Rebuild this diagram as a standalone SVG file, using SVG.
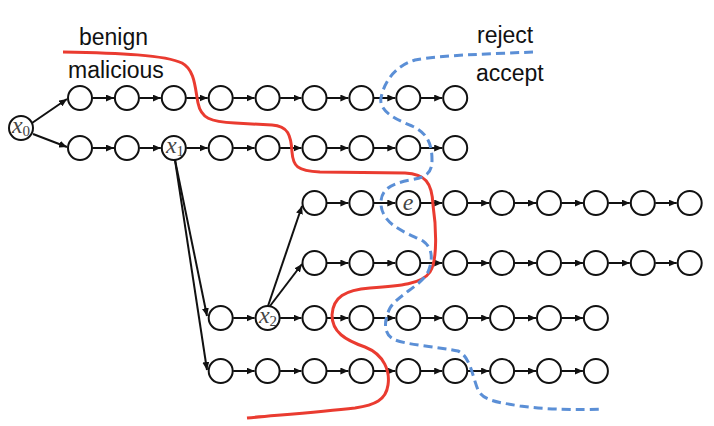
<svg xmlns="http://www.w3.org/2000/svg" width="714" height="426" viewBox="0 0 714 426">
<style>
.n circle{fill:#fff;stroke:#111;stroke-width:2}
.e line{stroke:#111;stroke-width:2;marker-end:url(#ah)}
.lbl{font-family:"Liberation Sans",Arial,sans-serif;font-size:23px;fill:#111}
.m{font-family:"Liberation Serif","Times New Roman",serif;font-style:italic;font-size:24px;fill:#444;text-anchor:middle}
.sub{font-style:normal;font-size:15px}
</style>
<defs>
<marker id="ah" markerUnits="userSpaceOnUse" markerWidth="9" markerHeight="7" refX="8" refY="3.5" orient="auto">
<path d="M0,0 L8,3.5 L0,7 z" fill="#111"/>
</marker>
</defs>
<rect width="714" height="426" fill="#fff"/>
<g id="labels">
<text class="lbl" x="79" y="45">benign</text>
<text class="lbl" x="68" y="78">malicious</text>
<text class="lbl" x="477" y="43">reject</text>
<text class="lbl" x="476" y="81">accept</text>
</g>
<g id="connectors" class="e">
<line x1="32" y1="123" x2="67" y2="99"/>
<line x1="33" y1="134" x2="67" y2="147"/>
<line x1="175" y1="160" x2="207" y2="316"/>
<line x1="175" y1="160" x2="207" y2="370"/>
<line x1="268" y1="306" x2="302" y2="206"/>
<line x1="270" y1="306" x2="302" y2="264"/>
<!-- row 1 -->
<line x1="92.5" y1="98" x2="114" y2="98"/>
<line x1="139.4" y1="98" x2="160.8" y2="98"/>
<line x1="186.3" y1="98" x2="207.7" y2="98"/>
<line x1="233.2" y1="98" x2="254.6" y2="98"/>
<line x1="280.1" y1="98" x2="301.5" y2="98"/>
<line x1="327" y1="98" x2="348.4" y2="98"/>
<line x1="373.9" y1="98" x2="395.3" y2="98"/>
<line x1="420.8" y1="98" x2="442.2" y2="98"/>
<!-- row 2 -->
<line x1="92.5" y1="148" x2="114" y2="148"/>
<line x1="139.4" y1="148" x2="160.8" y2="148"/>
<line x1="186.3" y1="148" x2="207.7" y2="148"/>
<line x1="233.2" y1="148" x2="254.6" y2="148"/>
<line x1="280.1" y1="148" x2="301.5" y2="148"/>
<line x1="327" y1="148" x2="348.4" y2="148"/>
<line x1="373.9" y1="148" x2="395.3" y2="148"/>
<line x1="420.8" y1="148" x2="442.2" y2="148"/>
<!-- row 3 -->
<line x1="327" y1="203" x2="348.4" y2="203"/>
<line x1="373.9" y1="203" x2="395.3" y2="203"/>
<line x1="420.8" y1="203" x2="442.2" y2="203"/>
<line x1="467.7" y1="203" x2="489.1" y2="203"/>
<line x1="514.6" y1="203" x2="536" y2="203"/>
<line x1="561.5" y1="203" x2="582.9" y2="203"/>
<line x1="608.4" y1="203" x2="629.8" y2="203"/>
<line x1="655.3" y1="203" x2="676.7" y2="203"/>
<!-- row 4 -->
<line x1="327" y1="263" x2="348.4" y2="263"/>
<line x1="373.9" y1="263" x2="395.3" y2="263"/>
<line x1="420.8" y1="263" x2="442.2" y2="263"/>
<line x1="467.7" y1="263" x2="489.1" y2="263"/>
<line x1="514.6" y1="263" x2="536" y2="263"/>
<line x1="561.5" y1="263" x2="582.9" y2="263"/>
<line x1="608.4" y1="263" x2="629.8" y2="263"/>
<line x1="655.3" y1="263" x2="676.7" y2="263"/>
<!-- row 5 -->
<line x1="233.2" y1="318" x2="254.6" y2="318"/>
<line x1="280.1" y1="318" x2="301.5" y2="318"/>
<line x1="327" y1="318" x2="348.4" y2="318"/>
<line x1="373.9" y1="318" x2="395.3" y2="318"/>
<line x1="420.8" y1="318" x2="442.2" y2="318"/>
<line x1="467.7" y1="318" x2="489.1" y2="318"/>
<line x1="514.6" y1="318" x2="536" y2="318"/>
<line x1="561.5" y1="318" x2="582.9" y2="318"/>
<!-- row 6 -->
<line x1="233.2" y1="371" x2="254.6" y2="371"/>
<line x1="280.1" y1="371" x2="301.5" y2="371"/>
<line x1="327" y1="371" x2="348.4" y2="371"/>
<line x1="373.9" y1="371" x2="395.3" y2="371"/>
<line x1="420.8" y1="371" x2="442.2" y2="371"/>
<line x1="467.7" y1="371" x2="489.1" y2="371"/>
<line x1="514.6" y1="371" x2="536" y2="371"/>
<line x1="561.5" y1="371" x2="582.9" y2="371"/>
</g>
<g class="n">
<g id="x0"><circle cx="21" cy="128" r="12"/><text class="m" x="21" y="133">x<tspan class="sub" dy="3">0</tspan></text></g>
<g id="r1c0"><circle cx="80" cy="98" r="12"/></g>
<g id="r1c1"><circle cx="126.9" cy="98" r="12"/></g>
<g id="r1c2"><circle cx="173.8" cy="98" r="12"/></g>
<g id="r1c3"><circle cx="220.7" cy="98" r="12"/></g>
<g id="r1c4"><circle cx="267.6" cy="98" r="12"/></g>
<g id="r1c5"><circle cx="314.5" cy="98" r="12"/></g>
<g id="r1c6"><circle cx="361.4" cy="98" r="12"/></g>
<g id="r1c7"><circle cx="408.3" cy="98" r="12"/></g>
<g id="r1c8"><circle cx="455.2" cy="98" r="12"/></g>
<g id="r2c0"><circle cx="80" cy="148" r="12"/></g>
<g id="r2c1"><circle cx="126.9" cy="148" r="12"/></g>
<g id="x1"><circle cx="173.8" cy="148" r="12"/><text class="m" x="175" y="153">x<tspan class="sub" dy="3">1</tspan></text></g>
<g id="r2c3"><circle cx="220.7" cy="148" r="12"/></g>
<g id="r2c4"><circle cx="267.6" cy="148" r="12"/></g>
<g id="r2c5"><circle cx="314.5" cy="148" r="12"/></g>
<g id="r2c6"><circle cx="361.4" cy="148" r="12"/></g>
<g id="r2c7"><circle cx="408.3" cy="148" r="12"/></g>
<g id="r2c8"><circle cx="455.2" cy="148" r="12"/></g>
<g id="r3c5"><circle cx="314.5" cy="203" r="12"/></g>
<g id="r3c6"><circle cx="361.4" cy="203" r="12"/></g>
<g id="e"><circle cx="408.3" cy="203" r="12"/><text class="m" x="408" y="210">e</text></g>
<g id="r3c8"><circle cx="455.2" cy="203" r="12"/></g>
<g id="r3c9"><circle cx="502.1" cy="203" r="12"/></g>
<g id="r3c10"><circle cx="549" cy="203" r="12"/></g>
<g id="r3c11"><circle cx="595.9" cy="203" r="12"/></g>
<g id="r3c12"><circle cx="642.8" cy="203" r="12"/></g>
<g id="r3c13"><circle cx="689.7" cy="203" r="12"/></g>
<g id="r4c5"><circle cx="314.5" cy="263" r="12"/></g>
<g id="r4c6"><circle cx="361.4" cy="263" r="12"/></g>
<g id="r4c7"><circle cx="408.3" cy="263" r="12"/></g>
<g id="r4c8"><circle cx="455.2" cy="263" r="12"/></g>
<g id="r4c9"><circle cx="502.1" cy="263" r="12"/></g>
<g id="r4c10"><circle cx="549" cy="263" r="12"/></g>
<g id="r4c11"><circle cx="595.9" cy="263" r="12"/></g>
<g id="r4c12"><circle cx="642.8" cy="263" r="12"/></g>
<g id="r4c13"><circle cx="689.7" cy="263" r="12"/></g>
<g id="r5c3"><circle cx="220.7" cy="318" r="12"/></g>
<g id="x2"><circle cx="267.6" cy="318" r="12"/><text class="m" x="268" y="323">x<tspan class="sub" dy="3">2</tspan></text></g>
<g id="r5c5"><circle cx="314.5" cy="318" r="12"/></g>
<g id="r5c6"><circle cx="361.4" cy="318" r="12"/></g>
<g id="r5c7"><circle cx="408.3" cy="318" r="12"/></g>
<g id="r5c8"><circle cx="455.2" cy="318" r="12"/></g>
<g id="r5c9"><circle cx="502.1" cy="318" r="12"/></g>
<g id="r5c10"><circle cx="549" cy="318" r="12"/></g>
<g id="r5c11"><circle cx="595.9" cy="318" r="12"/></g>
<g id="r6c3"><circle cx="220.7" cy="371" r="12"/></g>
<g id="r6c4"><circle cx="267.6" cy="371" r="12"/></g>
<g id="r6c5"><circle cx="314.5" cy="371" r="12"/></g>
<g id="r6c6"><circle cx="361.4" cy="371" r="12"/></g>
<g id="r6c7"><circle cx="408.3" cy="371" r="12"/></g>
<g id="r6c8"><circle cx="455.2" cy="371" r="12"/></g>
<g id="r6c9"><circle cx="502.1" cy="371" r="12"/></g>
<g id="r6c10"><circle cx="549" cy="371" r="12"/></g>
<g id="r6c11"><circle cx="595.9" cy="371" r="12"/></g>
</g>
<g id="boundaries" fill="none" stroke-width="3">
<path id="benign-malicious" stroke="#ea3b30" d="M63,52 C120,53 165,55 182,63 C195,70 195,88 198,103 C201,118 210,122 235,123 L272,125 C288,126 291,135 292,152 C293,166 297,171 320,172 L405,173 C425,174 432,182 433,205 C436,225 438,260 430,272 C422,284 400,286 370,288 C345,290 333,297 332,315 C332,332 345,340 365,347 C385,355 390,372 388,385 C386,400 375,405 355,408 C320,412 280,415 247,418"/>
<path id="reject-accept" stroke="#5b8fd6" stroke-dasharray="9,5" d="M533,52 C490,54 440,55 415,60 C395,66 384,82 381,98 C379,110 392,118 412,126 C428,133 432,145 432,160 C432,172 428,177 410,180 C390,184 380,190 381,205 C383,225 405,232 423,241 C433,248 433,260 428,272 C422,285 398,295 390,308 C384,320 383,333 393,339 C405,345 440,347 458,351 C470,356 472,375 478,390 C483,400 495,402 520,406 C550,410 580,410 603,409"/>
</g>
</svg>
